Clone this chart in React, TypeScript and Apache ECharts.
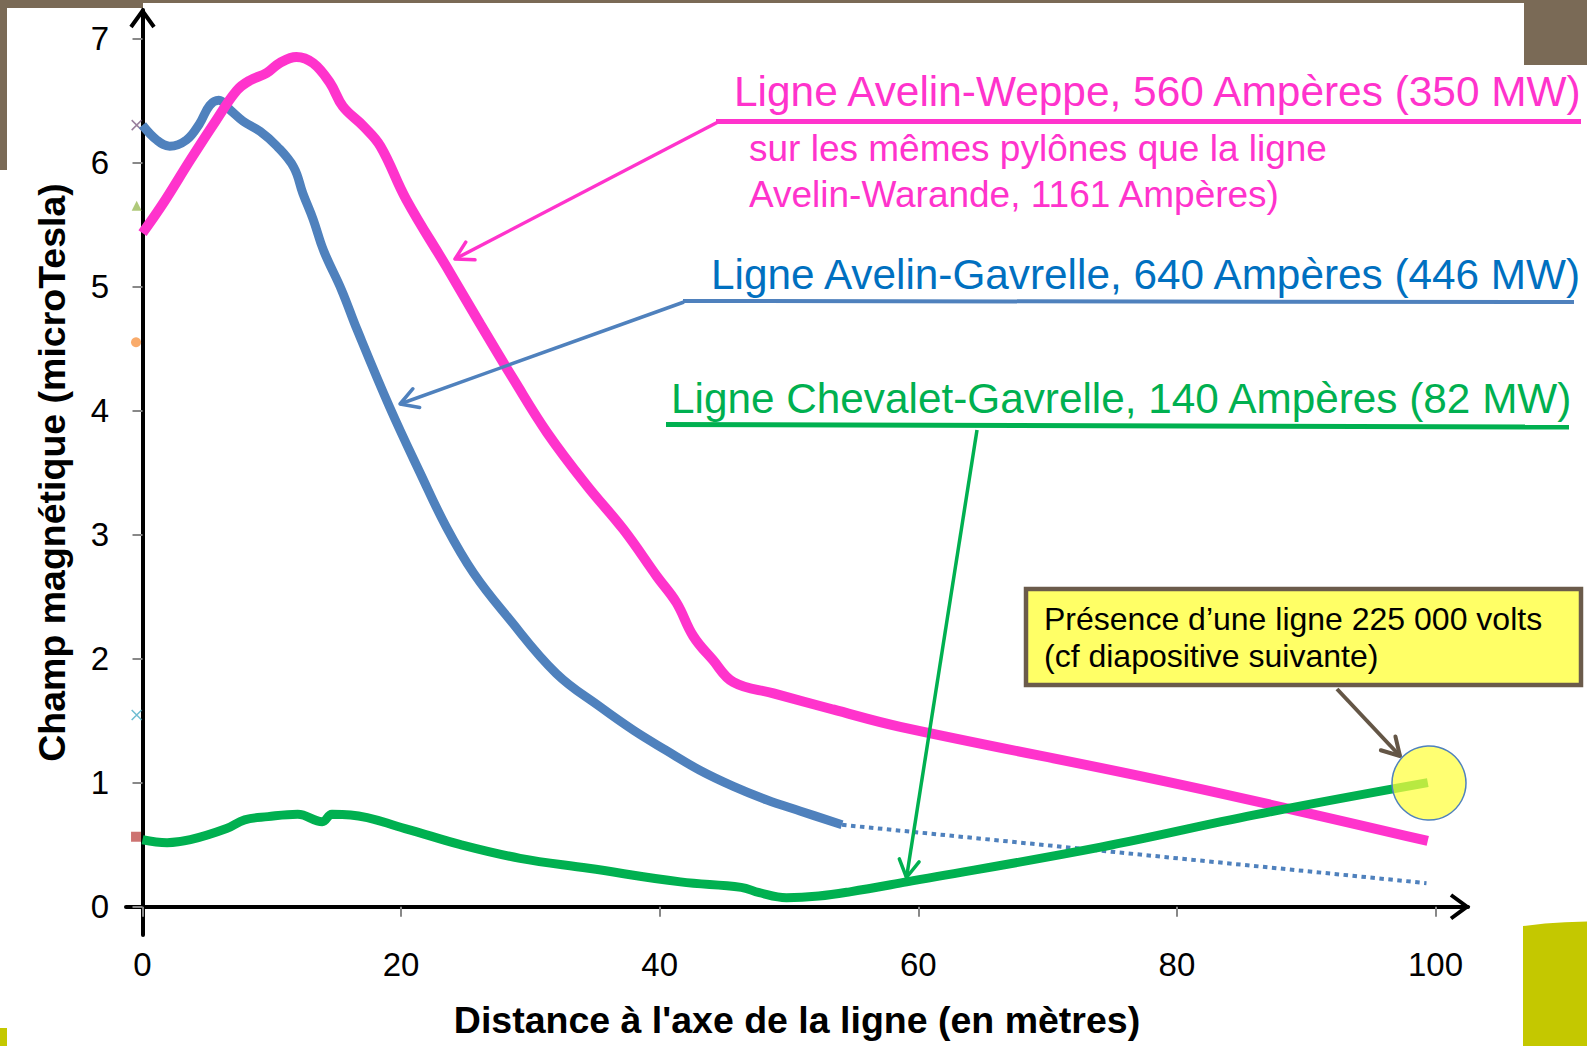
import React, { useEffect, useRef } from "react";
import * as echarts from "echarts";

const FONT = '"Liberation Sans", Arial, Helvetica, sans-serif';

// Axis ticks
const xTickValues = [0, 20, 40, 60, 80, 100];
const yTickValues = [0, 1, 2, 3, 4, 5, 6, 7];

// Ligne Avelin-Weppe (magenta)
const weppeDistance = [0, 1.6, 3.7, 5.7, 7.3, 8.3, 9.6, 10.6, 11.9, 13.2, 14.5, 15.5, 17.1, 18.4, 20.4, 23.5, 26.1, 28.7, 31.3, 34.4, 37.2, 39.8, 41.3, 42.6, 44.1, 45.7, 48.8, 53.4, 58.6, 80, 99.4];
const weppeField = [5.43, 5.67, 6.02, 6.34, 6.58, 6.66, 6.72, 6.8, 6.85, 6.8, 6.64, 6.45, 6.29, 6.13, 5.7, 5.16, 4.7, 4.25, 3.82, 3.39, 3.04, 2.66, 2.45, 2.18, 1.99, 1.81, 1.72, 1.59, 1.45, 0.99, 0.53];

// Ligne Avelin-Gavrelle (blue)
const gavrelleDistance = [0, 1.1, 2.1, 3.4, 4.4, 5.2, 5.9, 6.8, 7.8, 9.1, 10.4, 11.7, 12.4, 13.2, 14.0, 15.4, 16.6, 19.1, 21.5, 23.5, 25.6, 28.2, 32.0, 35.4, 38.0, 40.5, 43.1, 45.7, 48.3, 50.9, 54.1];
const gavrelleField = [6.3, 6.18, 6.13, 6.18, 6.31, 6.46, 6.5, 6.42, 6.33, 6.25, 6.13, 5.96, 5.75, 5.54, 5.29, 4.97, 4.65, 4.03, 3.49, 3.06, 2.69, 2.34, 1.88, 1.61, 1.42, 1.26, 1.1, 0.97, 0.86, 0.77, 0.66];
const gavrelleExtrapDistance = [54.1, 99.3];
const gavrelleExtrapField = [0.66, 0.19];

// Ligne Chevalet-Gavrelle (green)
const chevaletDistance = [0, 1.9, 3.7, 6.5, 7.9, 9.7, 12.0, 13.9, 14.65, 16.1, 20.3, 24.6, 29.2, 34.5, 41.6, 46.3, 47.7, 49.8, 52.3, 54.7, 59.1, 74.1, 86, 99.4];
const chevaletField = [0.54, 0.516, 0.54, 0.63, 0.7, 0.726, 0.745, 0.685, 0.745, 0.74, 0.63, 0.5, 0.39, 0.31, 0.2, 0.156, 0.113, 0.073, 0.086, 0.12, 0.2, 0.48, 0.74, 1.0];

// Leftover markers at the axis
const stubDistance = [-0.45, -0.45, -0.5, -0.45, -0.5];
const stubField = [6.3, 5.65, 4.55, 1.545, 0.564];
const stubSymbols = [
  "path://M0,0L10,10M10,0L0,10",
  "triangle",
  "circle",
  "path://M0,0L10,10M10,0L0,10",
  "rect",
];
const stubColors = ["#7F6084", "#9BBB59", "#F79646", "#4BACC6", "#C0504D"];

const PINK = "#FF33CC";
const BLUE = "#4F81BD";
const BLUE_TEXT = "#0070C0";
const GREEN = "#00B050";
const BROWN = "#7A6A56";
const OLIVE = "#C4C800";

const zip = (xs: number[], ys: number[]) => xs.map((x, i) => [x, ys[i]]);

function arrow(x1: number, y1: number, x2: number, y2: number, color: string, width: number, head = 20, z = 50) {
  const a = Math.atan2(y2 - y1, x2 - x1);
  const sp = Math.PI / 6;
  const p1 = [x2 - head * Math.cos(a - sp), y2 - head * Math.sin(a - sp)];
  const p2 = [x2 - head * Math.cos(a + sp), y2 - head * Math.sin(a + sp)];
  return [
    { type: "line", z, shape: { x1, y1, x2, y2 }, style: { stroke: color, lineWidth: width } },
    { type: "polyline", z, shape: { points: [p1, [x2, y2], p2] }, style: { stroke: color, lineWidth: width, lineCap: "round", lineJoin: "round" } },
  ];
}

function text(x: number, y: number, t: string, color: string, size: number, z = 60) {
  return {
    type: "text",
    z,
    x,
    y,
    style: { text: t, fill: color, fontSize: size, fontFamily: FONT, align: "left", verticalAlign: "middle" },
  };
}

export default function App() {
  const ref = useRef<HTMLDivElement>(null);

  useEffect(() => {
    if (!ref.current) return;
    const chart = echarts.init(ref.current, undefined, { renderer: "svg" });

    const graphics: any[] = [
      // slide decorations
      { type: "rect", z: -5, shape: { x: 0, y: 0, width: 1587, height: 3 }, style: { fill: BROWN } },
      { type: "rect", z: -5, shape: { x: 0, y: 0, width: 143, height: 8 }, style: { fill: BROWN } },
      { type: "rect", z: -5, shape: { x: 0, y: 0, width: 7, height: 170 }, style: { fill: BROWN } },
      { type: "rect", z: -5, shape: { x: 1524, y: 0, width: 63, height: 65 }, style: { fill: BROWN } },
      { type: "polygon", z: -5, shape: { points: [[1523, 926], [1545, 923.5], [1565, 922.2], [1587, 921.5], [1587, 1046], [1523, 1046]] }, style: { fill: OLIVE } },
      { type: "rect", z: -5, shape: { x: 0, y: 1028, width: 7, height: 18 }, style: { fill: OLIVE } },
      // axis arrowheads
      { type: "polyline", z: 40, shape: { points: [[131, 27], [142.5, 11], [154, 27]] }, style: { stroke: "#000", lineWidth: 4 } },
      { type: "polyline", z: 40, shape: { points: [[1451, 895], [1467, 906.7], [1451, 918.5]] }, style: { stroke: "#000", lineWidth: 4 } },
      // Avelin-Weppe annotation
      text(734, 91, "Ligne Avelin-Weppe, 560 Ampères (350 MW)", PINK, 42.4),
      text(749, 148, "sur les mêmes pylônes que la ligne", PINK, 37),
      text(749, 194, "Avelin-Warande, 1161 Ampères)", PINK, 37),
      { type: "line", z: 50, shape: { x1: 716, y1: 121.5, x2: 1581, y2: 121.5 }, style: { stroke: PINK, lineWidth: 5 } },
      ...arrow(718, 122, 455, 259, PINK, 3.5),
      // Avelin-Gavrelle annotation
      text(711, 274, "Ligne Avelin-Gavrelle, 640 Ampères (446 MW)", BLUE_TEXT, 42.3),
      { type: "line", z: 50, shape: { x1: 683, y1: 301, x2: 1574, y2: 302 }, style: { stroke: BLUE, lineWidth: 4 } },
      ...arrow(684, 302, 400, 404, BLUE, 3.5),
      // Chevalet-Gavrelle annotation
      text(671, 398, "Ligne Chevalet-Gavrelle, 140 Ampères (82 MW)", GREEN, 42.3),
      { type: "line", z: 50, shape: { x1: 666, y1: 424.5, x2: 1569, y2: 427 }, style: { stroke: GREEN, lineWidth: 5 } },
      ...arrow(977, 430, 906.5, 877.5, GREEN, 3.5),
      // 225 kV annotation
      { type: "rect", z: 60, shape: { x: 1026, y: 589, width: 555, height: 96 }, style: { fill: "#FFFF66", stroke: "#6B5B4B", lineWidth: 4.5 } },
      text(1044, 619, "Présence d’une ligne 225 000 volts", "#000", 32, 61),
      text(1044, 656, "(cf diapositive suivante)", "#000", 32, 61),
      ...arrow(1337, 689, 1400, 756, "#645646", 4, 20, 62),
      { type: "circle", z: 65, shape: { cx: 1429, cy: 783, r: 37 }, style: { fill: "rgba(255,255,60,0.72)", stroke: BLUE, lineWidth: 1.5 } },
    ];

    const option: any = {
      animation: false,
      backgroundColor: "#ffffff",
      textStyle: { fontFamily: FONT },
      grid: { left: 126, right: 119, top: 10, bottom: 111, containLabel: false, outerBoundsMode: "none" },
      xAxis: {
        type: "value",
        min: -1.276,
        max: 102.51,
        name: "Distance à l'axe de la ligne (en mètres)",
        nameLocation: "middle",
        nameGap: 66,
        nameMoveOverlap: false,
        nameTextStyle: { fontSize: 37.5, fontWeight: "bold", color: "#000", fontFamily: FONT },
        axisLine: { show: true, onZero: true, lineStyle: { color: "#000", width: 4 } },
        axisTick: { show: true, inside: false, length: 10, lineStyle: { color: "#888", width: 2 }, customValues: xTickValues },
        axisLabel: { show: true, margin: 13, fontSize: 33, color: "#000", fontFamily: FONT, customValues: xTickValues },
        splitLine: { show: false },
      },
      yAxis: {
        type: "value",
        min: -0.228,
        max: 7.228,
        name: "Champ magnétique (microTesla)",
        nameLocation: "middle",
        nameGap: 55,
        nameMoveOverlap: false,
        nameTextStyle: { fontSize: 37.5, fontWeight: "bold", color: "#000", fontFamily: FONT },
        axisLine: { show: true, onZero: true, lineStyle: { color: "#000", width: 4 } },
        axisTick: { show: true, inside: false, length: 10, lineStyle: { color: "#888", width: 2 }, customValues: yTickValues },
        axisLabel: { show: true, margin: 17, fontSize: 33, color: "#000", fontFamily: FONT, customValues: yTickValues },
        splitLine: { show: false },
      },
      series: [
        {
          name: "Marqueurs",
          type: "scatter",
          z: 1,
          silent: true,
          data: stubDistance.map((x, i) => ({
            value: [x, stubField[i]],
            symbol: stubSymbols[i],
            symbolSize: 10,
            itemStyle: stubSymbols[i].startsWith("path")
              ? { color: "none", borderColor: stubColors[i], borderWidth: 1.5 }
              : { color: stubColors[i] },
          })),
        },
        {
          name: "Ligne Avelin-Gavrelle (extrapolation)",
          type: "line",
          z: 2,
          silent: true,
          symbol: "none",
          data: zip(gavrelleExtrapDistance, gavrelleExtrapField),
          lineStyle: { color: BLUE, width: 4, type: [4.5, 4.5] },
        },
        {
          name: "Ligne Avelin-Gavrelle",
          type: "line",
          z: 3,
          silent: true,
          symbol: "none",
          smooth: 0.4,
          data: zip(gavrelleDistance, gavrelleField),
          lineStyle: { color: BLUE, width: 9 },
        },
        {
          name: "Ligne Avelin-Weppe",
          type: "line",
          z: 4,
          silent: true,
          symbol: "none",
          smooth: 0.4,
          data: zip(weppeDistance, weppeField),
          lineStyle: { color: PINK, width: 10 },
        },
        {
          name: "Ligne Chevalet-Gavrelle",
          type: "line",
          z: 5,
          silent: true,
          symbol: "none",
          smooth: 0.4,
          data: zip(chevaletDistance, chevaletField),
          lineStyle: { color: GREEN, width: 9 },
        },
      ],
      graphic: graphics,
    };

    chart.setOption(option);
    return () => chart.dispose();
  }, []);

  return (
    <div
      ref={ref}
      style={{ position: "absolute", left: 0, top: 0, width: 1587, height: 1046, background: "#fff" }}
    />
  );
}
